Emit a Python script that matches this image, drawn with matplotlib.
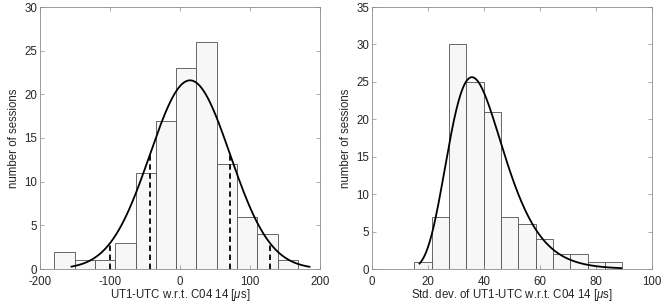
import numpy as np
import matplotlib
matplotlib.use('Agg')
import matplotlib.pyplot as plt

plt.rcParams['font.family'] = ['Liberation Sans', 'DejaVu Sans']
plt.rcParams['font.size'] = 8.3
plt.rcParams['axes.unicode_minus'] = False
plt.rcParams['mathtext.fontset'] = 'custom'
plt.rcParams['mathtext.it'] = 'Liberation Sans:italic'
plt.rcParams['mathtext.rm'] = 'Liberation Sans'

# left panel: UT1-UTC offsets
left_edges = [-179.5 + 29 * i for i in range(13)]
left_counts = [2, 1, 1, 3, 11, 17, 23, 26, 12, 6, 4, 1]
left_mu = 14.3
left_sigma = 57.3
left_range = (-155, 185)

# right panel: std. dev. of UT1-UTC
right_edges = [15.1 + 6.19 * i for i in range(13)]
right_counts = [1, 7, 30, 25, 21, 7, 6, 4, 2, 2, 1, 1]
right_logmu = 3.652
right_logsig = 0.278
right_range = (17, 89)

bar_face = '#f7f7f7'
bar_edge = '#505050'
box_col = '#262626'

fig = plt.figure(figsize=(6.64, 3.05), dpi=100)
ax1 = fig.add_axes([40 / 664, 1 - 269 / 305, 280 / 664, 262 / 305])
ax2 = fig.add_axes([372 / 664, 1 - 269 / 305, 280 / 664, 262 / 305])


def style(ax):
    for s in ax.spines.values():
        s.set_color('#8c8c8c')
        s.set_linewidth(0.6)
    ax.tick_params(direction='in', top=True, right=True, length=3, width=0.5,
                   color='#8c8c8c', labelcolor=box_col)
    ax.tick_params(axis='x', pad=5)
    ax.tick_params(axis='y', pad=2)


def draw_hist(ax, edges, counts):
    edges = np.array(edges)
    ax.bar(edges[:-1], counts, width=np.diff(edges), align='edge',
           facecolor=bar_face, edgecolor=bar_edge, linewidth=0.6)


# left
draw_hist(ax1, left_edges, left_counts)
n1 = sum(left_counts)
w1 = left_edges[1] - left_edges[0]
gauss = lambda x: n1 * w1 / (left_sigma * np.sqrt(2 * np.pi)) * np.exp(-0.5 * ((x - left_mu) / left_sigma) ** 2)
xs = np.linspace(*left_range, 300)
ax1.plot(xs, gauss(xs), color='k', lw=1.3)
for k in (-2, -1, 1, 2):
    xv = left_mu + k * left_sigma
    ax1.plot([xv, xv], [0, gauss(xv)], color='k', lw=1.3, ls=(0, (3, 2)))
ax1.set_xlim(-200, 200)
ax1.set_ylim(0, 30)
ax1.set_xticks([-200, -100, 0, 100, 200])
ax1.set_yticks([0, 5, 10, 15, 20, 25, 30])
ax1.set_xlabel(r'UT1-UTC w.r.t. C04 14 [$\mu$s]', color=box_col, labelpad=-1)
ax1.set_ylabel('number of sessions', color=box_col, labelpad=3)
style(ax1)

# right
draw_hist(ax2, right_edges, right_counts)
n2 = sum(right_counts)
w2 = right_edges[1] - right_edges[0]
xr = np.linspace(*right_range, 300)
logn = n2 * w2 / (xr * right_logsig * np.sqrt(2 * np.pi)) * np.exp(-(np.log(xr) - right_logmu) ** 2 / (2 * right_logsig ** 2))
ax2.plot(xr, logn, color='k', lw=1.3)
ax2.set_xlim(0, 100)
ax2.set_ylim(0, 35)
ax2.set_xticks([0, 20, 40, 60, 80, 100])
ax2.set_yticks([0, 5, 10, 15, 20, 25, 30, 35])
ax2.set_xlabel(r'Std. dev. of UT1-UTC w.r.t. C04 14 [$\mu$s]', color=box_col, labelpad=-1)
ax2.set_ylabel('number of sessions', color=box_col, labelpad=3)
style(ax2)

fig.savefig('out.png', dpi=100)
